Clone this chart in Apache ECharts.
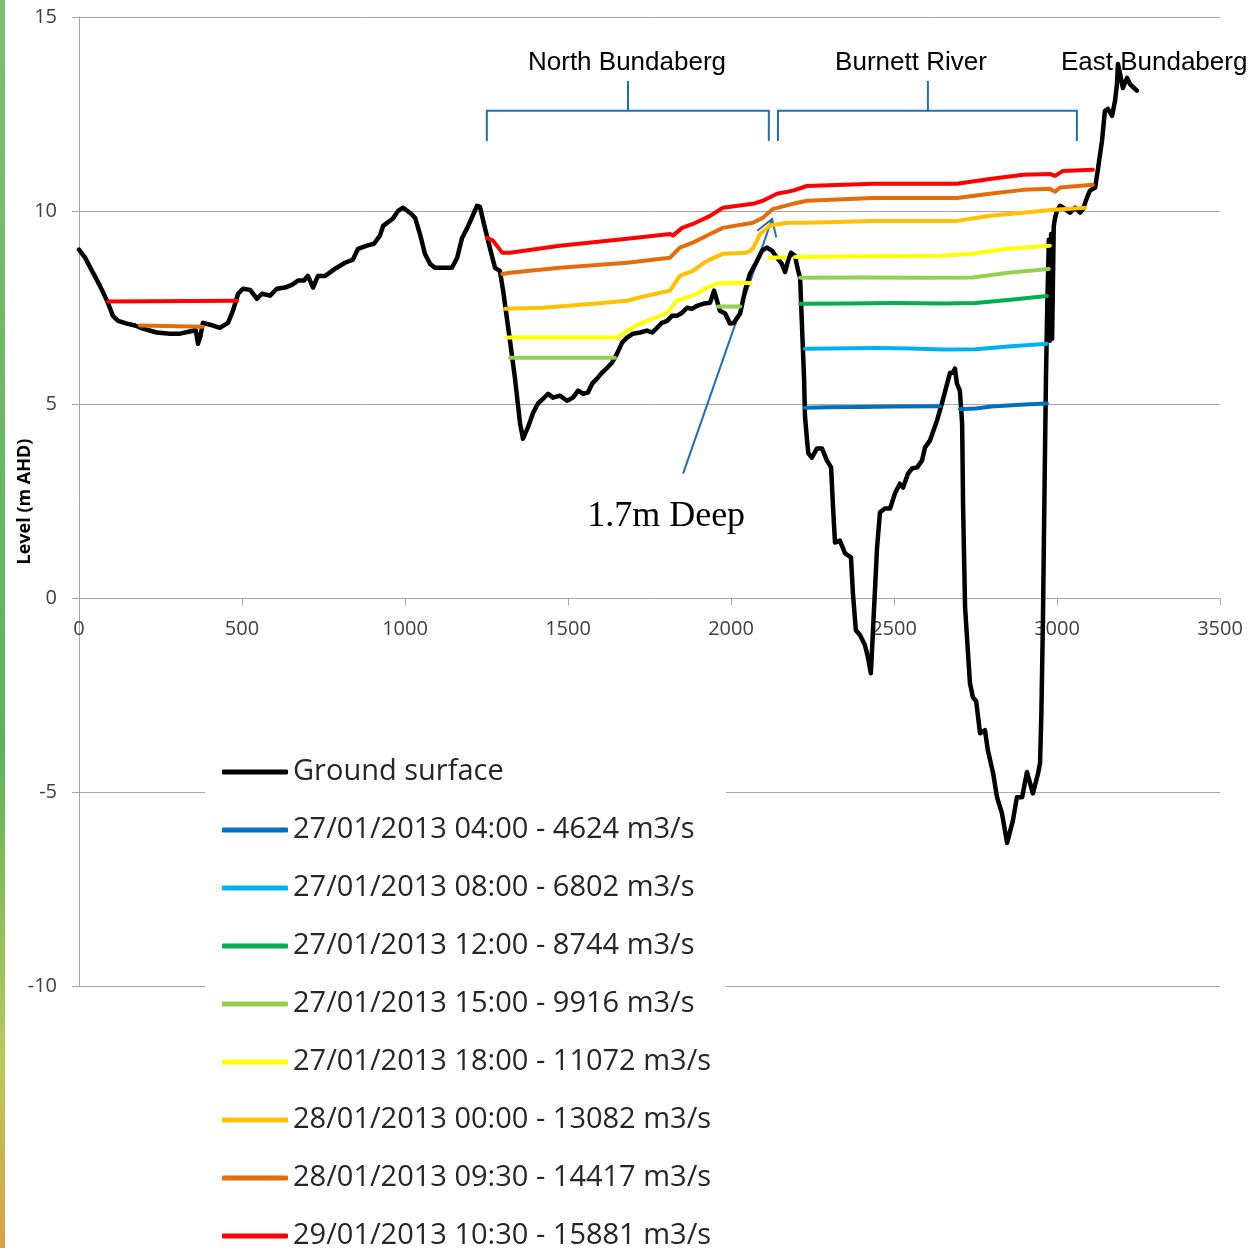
<!DOCTYPE html>
<html lang="en">
  <head>
    <meta charset="UTF-8" />
    <title>Burnett River cross section - flood levels</title>
    <style>
      * {
        padding: 0;
        margin: 0;
      }
      body {
        background: #fff;
      }
    </style>
    <script src="https://cdn.jsdelivr.net/npm/echarts@6/dist/echarts.min.js"></script>
  </head>
  <body>
    <div id="main" style="width: 1260px; height: 1248px;"></div>
    <script type="text/javascript">
      // chainage (m) / level (m AHD) pairs
      var ground = [
        [0, 9.0], [18, 8.8], [40, 8.45], [64, 8.07], [86, 7.68], [104, 7.29], [120, 7.16], [147, 7.09],
        [172, 7.04], [196, 6.96], [239, 6.86], [279, 6.83], [310, 6.83], [347, 6.9], [358, 6.92], [365, 6.57],
        [372, 6.75], [380, 7.11], [411, 7.04], [432, 6.98], [457, 7.11], [472, 7.42], [488, 7.86], [503, 7.99],
        [525, 7.96], [546, 7.73], [561, 7.86], [586, 7.81], [607, 7.99], [632, 8.02], [653, 8.09], [672, 8.2],
        [690, 8.2], [702, 8.32], [718, 8.02], [733, 8.32], [755, 8.32], [785, 8.5], [816, 8.66], [840, 8.74],
        [856, 9.02], [883, 9.1], [905, 9.15], [923, 9.36], [933, 9.61], [963, 9.8], [979, 10.0], [994, 10.08],
        [1015, 9.95], [1031, 9.82], [1046, 9.4], [1061, 8.89], [1077, 8.63], [1092, 8.53], [1117, 8.53],
        [1144, 8.53], [1160, 8.79], [1175, 9.3], [1190, 9.54], [1205, 9.82], [1221, 10.13], [1230, 10.1],
        [1245, 9.56], [1261, 9.02], [1276, 8.53], [1291, 8.45], [1301, 7.94], [1322, 6.65], [1337, 5.7],
        [1353, 4.51], [1362, 4.12], [1377, 4.41], [1393, 4.79], [1408, 5.03], [1423, 5.15], [1439, 5.28],
        [1454, 5.18], [1475, 5.23], [1497, 5.1], [1515, 5.18], [1531, 5.36], [1546, 5.28], [1561, 5.31],
        [1574, 5.54], [1589, 5.67], [1604, 5.82], [1620, 5.95], [1635, 6.08], [1650, 6.31], [1666, 6.6],
        [1681, 6.73], [1699, 6.83], [1721, 6.86], [1742, 6.91], [1758, 6.86], [1773, 6.98], [1788, 7.11],
        [1804, 7.16], [1819, 7.29], [1834, 7.29], [1850, 7.37], [1865, 7.5], [1880, 7.47], [1896, 7.55],
        [1914, 7.6], [1936, 7.63], [1948, 7.94], [1957, 7.68], [1966, 7.42], [1982, 7.35], [1997, 7.09],
        [2009, 7.11], [2028, 7.35], [2043, 7.94], [2058, 8.37], [2080, 8.71], [2095, 8.97], [2110, 9.05],
        [2126, 8.97], [2141, 8.79], [2156, 8.63], [2166, 8.42], [2175, 8.71], [2184, 8.92], [2196, 8.84],
        [2206, 8.45], [2212, 8.27], [2218, 6.98], [2224, 5.7], [2227, 4.7], [2233, 4.1], [2237, 3.75],
        [2248, 3.63], [2264, 3.87], [2279, 3.87], [2294, 3.56], [2307, 3.38], [2313, 2.35], [2319, 1.44],
        [2334, 1.49], [2350, 1.16], [2368, 1.06], [2374, 0.13], [2383, -0.82], [2396, -0.95], [2411, -1.21],
        [2420, -1.52], [2429, -1.93], [2436, -0.75], [2448, 1.31], [2457, 2.22], [2472, 2.32], [2488, 2.32],
        [2503, 2.71], [2518, 2.96], [2528, 2.86], [2543, 3.22], [2555, 3.35], [2571, 3.38], [2586, 3.56],
        [2595, 3.89], [2610, 4.07], [2632, 4.59], [2647, 5.03], [2663, 5.54], [2672, 5.82], [2681, 5.82],
        [2687, 5.93], [2693, 5.54], [2702, 5.36], [2709, 4.51], [2712, 2.35], [2718, -0.23], [2733, -2.19],
        [2742, -2.55], [2752, -2.65], [2764, -3.48], [2779, -3.4], [2788, -3.92], [2804, -4.51], [2816, -5.13],
        [2831, -5.54], [2847, -6.31], [2865, -5.72], [2877, -5.13], [2893, -5.13], [2908, -4.48], [2926, -5.03],
        [2942, -4.51], [2948, -4.25], [2952, -3.0], [2957, -0.5], [2962, 3.0], [2966, 5.6], [2970, 7.5],
        [2975, 9.25], [2978, 6.65], [2982, 9.4], [2985, 6.7], [2990, 9.6], [2994, 9.82], [3000, 10.0],
        [3009, 10.13], [3025, 10.05], [3040, 9.95], [3055, 10.08], [3071, 9.95], [3080, 10.05], [3092, 10.34],
        [3101, 10.52], [3117, 10.6], [3126, 11.1], [3138, 11.8], [3147, 12.58], [3156, 12.63], [3169, 12.45],
        [3178, 12.84], [3184, 13.27], [3187, 13.79], [3196, 13.43], [3202, 13.17], [3215, 13.43],
        [3224, 13.27], [3245, 13.1]
      ];

      // water levels, null breaks a line where the ground sticks up
      var level0400 = [
        [2227, 4.92], [2300, 4.93], [2400, 4.94], [2500, 4.95], [2641, 4.96], [2670, null],
        [2702, 4.88], [2750, 4.9], [2800, 4.95], [2900, 5.0], [2969, 5.03]
      ];
      var level0800 = [
        [2227, 6.44], [2300, 6.45], [2450, 6.46], [2550, 6.45], [2650, 6.42], [2750, 6.43], [2850, 6.5], [2969, 6.57]
      ];
      var level1200 = [
        [2212, 7.6], [2350, 7.61], [2500, 7.62], [2650, 7.61], [2750, 7.62], [2850, 7.7], [2969, 7.8]
      ];
      var level1500 = [
        [1322, 6.21], [1644, 6.21], [1700, null], [1960, 7.53], [2028, 7.53], [2100, null],
        [2212, 8.27], [2400, 8.28], [2600, 8.27], [2742, 8.28], [2850, 8.4], [2975, 8.5]
      ];
      var level1800 = [
        [1313, 6.73], [1653, 6.73], [1681, 6.91], [1721, 7.09], [1761, 7.22], [1804, 7.37], [1834, 7.68],
        [1865, 7.76], [1896, 7.86], [1926, 8.02], [1957, 8.12], [1988, 8.14], [2037, 8.14], [2060, 8.14],
        [2090, null], [2118, 8.79], [2166, 8.8], [2180, null], [2196, 8.81], [2400, 8.83], [2641, 8.84],
        [2742, 8.89], [2847, 9.02], [2978, 9.1]
      ];
      var level2800 = [
        [1307, 7.47], [1423, 7.5], [1577, 7.6], [1681, 7.68], [1742, 7.81], [1813, 7.94], [1843, 8.32],
        [1883, 8.45], [1926, 8.71], [1975, 8.89], [2049, 8.92], [2067, 9.02], [2089, 9.4], [2120, 9.62],
        [2172, 9.69], [2233, 9.69], [2436, 9.74], [2693, 9.74], [2794, 9.87], [2896, 9.95], [2988, 10.03],
        [3040, 10.05], [3086, 10.08]
      ];
      var level2809 = [
        [187, 7.04], [380, 7.01], [420, null], [1298, 8.37], [1322, 8.4], [1475, 8.53], [1681, 8.66],
        [1813, 8.79], [1843, 9.05], [1883, 9.18], [1936, 9.4], [1975, 9.56], [2067, 9.69], [2098, 9.82],
        [2129, 10.05], [2190, 10.18], [2233, 10.26], [2436, 10.33], [2693, 10.33], [2794, 10.44],
        [2896, 10.54], [2978, 10.57], [2994, 10.49], [3009, 10.6], [3110, 10.67]
      ];
      var level2910 = [
        [89, 7.66], [485, 7.68], [800, null], [1252, 9.3], [1270, 9.23], [1298, 8.92], [1322, 8.92],
        [1475, 9.1], [1681, 9.28], [1813, 9.4], [1822, 9.36], [1850, 9.56], [1883, 9.66], [1936, 9.87],
        [1975, 10.08], [2067, 10.18], [2098, 10.26], [2141, 10.44], [2190, 10.52], [2233, 10.64],
        [2436, 10.7], [2693, 10.7], [2794, 10.82], [2896, 10.93], [2978, 10.95], [2994, 10.9],
        [3018, 11.03], [3110, 11.06]
      ];

      var seriesNames = [
        'Ground surface',
        '27/01/2013 04:00 - 4624 m3/s',
        '27/01/2013 08:00 - 6802 m3/s',
        '27/01/2013 12:00 - 8744 m3/s',
        '27/01/2013 15:00 - 9916 m3/s',
        '27/01/2013 18:00 - 11072 m3/s',
        '28/01/2013 00:00 - 13082 m3/s',
        '28/01/2013 09:30 - 14417 m3/s',
        '29/01/2013 10:30 - 15881 m3/s'
      ];
      var seriesData = [ground, level0400, level0800, level1200, level1500, level1800, level2800, level2809, level2910];
      var colors = ['#000000', '#0070C0', '#00B0F0', '#00B050', '#92D050', '#FFFF00', '#FFC000', '#E46C0A', '#FF0000'];

      // reach labels and brackets (chainage / level)
      var reaches = [
        { name: 'North Bundaberg', from: 1251, to: 2116, mid: 1684, textX: 1681 },
        { name: 'Burnett River', from: 2144, to: 3061, mid: 2604, textX: 2552 }
      ];
      var eastLabel = { name: 'East Bundaberg', x: 3298 };
      var deepNote = { text: '1.7m Deep', x: 1801, y: 2.11, from: [1853, 3.22], to: [2126, 9.79] };

      var yMin = -10, yMax = 15;
      var gridTop = 17, gridBottom = 262, gridLeft = 79, gridRight = 40;
      var plotHeight = 1248 - gridTop - gridBottom;
      // the distance axis sits on level 0, labels included
      var zeroOffset = -plotHeight * (0 - yMin) / (yMax - yMin);

      var myChart = echarts.init(document.getElementById('main'));
      var axisGrey = '#A6A6A6';
      var labelFont = 'Open Sans';

      var option = {
        backgroundColor: '#fff',
        animation: false,
        color: colors,
        grid: {
          left: gridLeft, right: gridRight, top: gridTop, bottom: gridBottom,
          containLabel: false, outerBoundsMode: 'none'
        },
        legend: {
          data: seriesNames,
          orient: 'vertical',
          left: 205,
          top: 747,
          height: 540,
          padding: [10, 15, 10, 17],
          backgroundColor: '#fff',
          icon: 'roundRect',
          itemWidth: 66,
          itemHeight: 5,
          itemGap: 28,
          textStyle: { fontFamily: labelFont, fontSize: 29, lineHeight: 30, color: '#262626' }
        },
        xAxis: {
          type: 'value',
          min: 0,
          max: 3500,
          interval: 500,
          offset: zeroOffset,
          axisLine: { onZero: false, lineStyle: { color: axisGrey, width: 1 } },
          axisTick: { show: true, length: 7, lineStyle: { color: axisGrey } },
          axisLabel: {
            color: '#404040', fontFamily: labelFont, fontSize: 20, margin: 21,
            formatter: function (v) { return String(v); }
          },
          splitLine: { show: false }
        },
        yAxis: {
          type: 'value',
          min: yMin,
          max: yMax,
          interval: 5,
          name: 'Level (m AHD)',
          nameLocation: 'middle',
          nameGap: 45,
          nameMoveOverlap: false,
          nameTextStyle: { fontFamily: labelFont, fontWeight: 'bold', fontSize: 18, color: '#000' },
          axisLine: { show: true, onZero: false, lineStyle: { color: axisGrey, width: 1 } },
          axisTick: { show: true, length: 7, lineStyle: { color: axisGrey } },
          axisLabel: { color: '#404040', fontFamily: labelFont, fontSize: 20, margin: 22 },
          splitLine: { show: true, lineStyle: { color: axisGrey, width: 1 } }
        },
        series: seriesNames.map(function (name, i) {
          return {
            name: name,
            type: 'line',
            data: seriesData[i],
            symbol: 'none',
            connectNulls: false,
            lineStyle: { color: colors[i], width: i === 0 ? 4.5 : 4, cap: 'round', join: 'round' },
            itemStyle: { color: colors[i] }
          };
        })
      };

      myChart.setOption(option, true);

      function px(x, y) {
        return myChart.convertToPixel({ gridIndex: 0 }, [x, y]);
      }

      var blue = '#1F6FB4';
      var graphics = [];
      var textY = 13.81;

      reaches.forEach(function (r) {
        var a = px(r.from, 11.8), b = px(r.from, 12.58), c = px(r.to, 12.58), d = px(r.to, 11.8);
        graphics.push({
          type: 'polyline',
          shape: { points: [a, b, c, d] },
          style: { stroke: blue, lineWidth: 2, fill: null }
        });
        var m0 = px(r.mid, 12.58), m1 = px(r.mid, 13.35);
        graphics.push({
          type: 'line',
          shape: { x1: m0[0], y1: m0[1], x2: m1[0], y2: m1[1] },
          style: { stroke: blue, lineWidth: 2 }
        });
        var t = px(r.textX, textY);
        graphics.push({
          type: 'text', x: t[0], y: t[1], z: 10,
          style: { text: r.name, fontFamily: 'Liberation Sans', fontSize: 26, fill: '#000', align: 'center', verticalAlign: 'middle' }
        });
      });

      var e = px(eastLabel.x, textY);
      graphics.push({
        type: 'text', x: e[0], y: e[1], z: 10,
        style: { text: eastLabel.name, fontFamily: 'Liberation Sans', fontSize: 26, fill: '#000', align: 'center', verticalAlign: 'middle' }
      });

      // arrow to the low point on the bank
      var p0 = px(deepNote.from[0], deepNote.from[1]);
      var p1 = px(deepNote.to[0], deepNote.to[1]);
      var ang = Math.atan2(p0[1] - p1[1], p0[0] - p1[0]);
      var wing = 19, spread = 0.56;
      graphics.push({
        type: 'line',
        shape: { x1: p0[0], y1: p0[1], x2: p1[0], y2: p1[1] },
        style: { stroke: blue, lineWidth: 2 }
      });
      graphics.push({
        type: 'polyline',
        shape: {
          points: [
            [p1[0] + wing * Math.cos(ang + spread), p1[1] + wing * Math.sin(ang + spread)],
            p1,
            [p1[0] + wing * Math.cos(ang - spread), p1[1] + wing * Math.sin(ang - spread)]
          ]
        },
        style: { stroke: blue, lineWidth: 2, fill: null }
      });
      var dn = px(deepNote.x, deepNote.y);
      graphics.push({
        type: 'text', x: dn[0], y: dn[1], z: 10,
        style: { text: deepNote.text, fontFamily: 'Liberation Serif', fontSize: 36, fill: '#000', align: 'center', verticalAlign: 'middle' }
      });

      // strip of the background map showing at the left edge
      graphics.push({
        type: 'rect',
        shape: { x: 0, y: 0, width: 5, height: 1248 },
        style: {
          fill: new echarts.graphic.LinearGradient(0, 0, 0, 1, [
            { offset: 0, color: '#7CC26A' },
            { offset: 0.6, color: '#5DB35A' },
            { offset: 0.85, color: '#B9C95A' },
            { offset: 1, color: '#D9A040' }
          ])
        }
      });

      myChart.setOption({ graphic: graphics });
    </script>
  </body>
</html>
